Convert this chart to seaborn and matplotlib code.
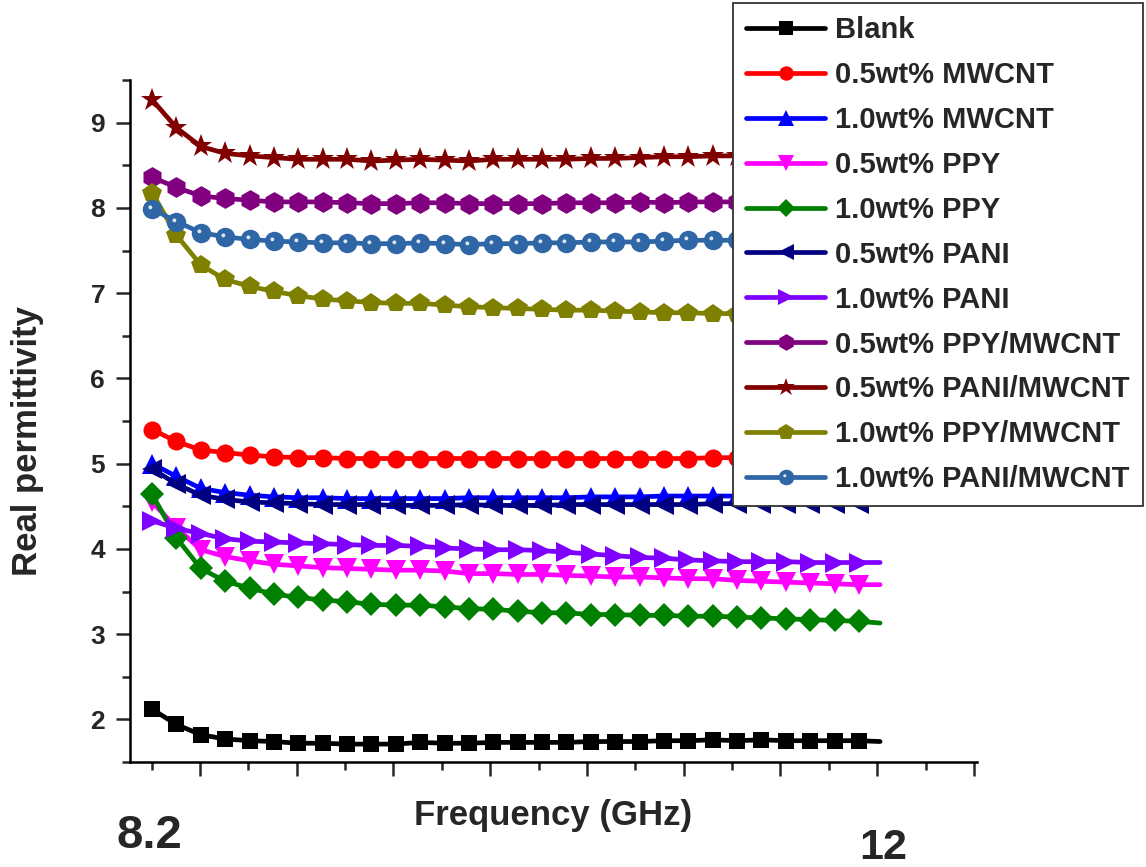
import numpy as np
import matplotlib
matplotlib.use("Agg")
import matplotlib.pyplot as plt
import seaborn as sns
from matplotlib.path import Path
from matplotlib.ticker import FixedLocator
from matplotlib.legend_handler import HandlerTuple

sns.set_style("ticks")
plt.rcParams['font.family'] = ['Liberation Sans', 'DejaVu Sans']
plt.rcParams['font.weight'] = 'bold'

# ---- data ----
freq = list(np.linspace(8.2, 11.89, 30)) + [12.0]   # GHz; last entry = end of trace

blank = [2.12, 1.94, 1.82, 1.77, 1.75, 1.74, 1.72, 1.72, 1.71, 1.71, 1.71, 1.73, 1.72, 1.72, 1.73, 1.73,
         1.73, 1.73, 1.74, 1.74, 1.74, 1.75, 1.75, 1.76, 1.75, 1.76, 1.75, 1.75, 1.75, 1.75, 1.74]
mwcnt05 = [5.40, 5.26, 5.16, 5.13, 5.10, 5.08, 5.07, 5.07, 5.06, 5.06, 5.06, 5.06, 5.06, 5.06, 5.06, 5.06,
           5.06, 5.06, 5.06, 5.06, 5.06, 5.06, 5.06, 5.07, 5.07, 5.07, 5.07, 5.07, 5.08, 5.08, 5.08]
mwcnt10 = [5.00, 4.85, 4.71, 4.66, 4.63, 4.61, 4.60, 4.60, 4.59, 4.59, 4.59, 4.59, 4.59, 4.60, 4.60, 4.60,
           4.60, 4.60, 4.61, 4.61, 4.61, 4.62, 4.62, 4.62, 4.62, 4.63, 4.63, 4.63, 4.64, 4.64, 4.64]
ppy05 = [4.55, 4.25, 3.99, 3.91, 3.86, 3.82, 3.80, 3.78, 3.77, 3.76, 3.75, 3.75, 3.74, 3.71, 3.71, 3.70,
         3.70, 3.69, 3.68, 3.67, 3.67, 3.66, 3.65, 3.65, 3.63, 3.62, 3.61, 3.60, 3.59, 3.58, 3.58]
ppy10 = [4.64, 4.13, 3.77, 3.62, 3.54, 3.47, 3.43, 3.40, 3.38, 3.35, 3.34, 3.34, 3.32, 3.30, 3.29, 3.27,
         3.25, 3.25, 3.23, 3.23, 3.22, 3.22, 3.21, 3.21, 3.20, 3.19, 3.18, 3.17, 3.16, 3.15, 3.13]
pani05 = [4.94, 4.76, 4.63, 4.58, 4.55, 4.54, 4.53, 4.52, 4.52, 4.52, 4.51, 4.51, 4.51, 4.52, 4.51, 4.51,
          4.51, 4.52, 4.52, 4.52, 4.52, 4.52, 4.52, 4.53, 4.53, 4.53, 4.53, 4.53, 4.53, 4.53, 4.54]
pani10 = [4.33, 4.24, 4.18, 4.12, 4.09, 4.08, 4.07, 4.06, 4.05, 4.04, 4.04, 4.03, 4.01, 4.00, 3.99, 3.99,
          3.98, 3.96, 3.94, 3.92, 3.90, 3.89, 3.87, 3.86, 3.85, 3.85, 3.85, 3.84, 3.84, 3.84, 3.84]
ppy_mwcnt05 = [8.36, 8.24, 8.14, 8.11, 8.09, 8.07, 8.07, 8.07, 8.06, 8.05, 8.05, 8.06, 8.06, 8.05, 8.05, 8.05,
               8.05, 8.06, 8.06, 8.06, 8.07, 8.06, 8.07, 8.07, 8.07, 8.07, 8.08, 8.08, 8.08, 8.08, 8.08]
pani_mwcnt05 = [9.27, 8.94, 8.72, 8.64, 8.61, 8.59, 8.57, 8.57, 8.57, 8.55, 8.56, 8.57, 8.56, 8.55, 8.57, 8.57,
                8.57, 8.57, 8.58, 8.58, 8.59, 8.60, 8.60, 8.61, 8.61, 8.62, 8.62, 8.63, 8.63, 8.63, 8.64]
ppy_mwcnt10 = [8.18, 7.68, 7.33, 7.16, 7.08, 7.02, 6.97, 6.93, 6.91, 6.89, 6.88, 6.88, 6.86, 6.84, 6.83, 6.82,
               6.81, 6.80, 6.80, 6.79, 6.78, 6.77, 6.77, 6.76, 6.76, 6.75, 6.75, 6.75, 6.74, 6.74, 6.74]
pani_mwcnt10 = [7.99, 7.84, 7.71, 7.66, 7.63, 7.61, 7.60, 7.59, 7.59, 7.58, 7.58, 7.59, 7.58, 7.57, 7.58, 7.58,
                7.59, 7.59, 7.60, 7.60, 7.60, 7.61, 7.62, 7.62, 7.62, 7.63, 7.63, 7.64, 7.64, 7.64, 7.65]

labels = ["Blank", "0.5wt% MWCNT", "1.0wt% MWCNT", "0.5wt% PPY", "1.0wt% PPY", "0.5wt% PANI",
          "1.0wt% PANI", "0.5wt% PPY/MWCNT", "0.5wt% PANI/MWCNT", "1.0wt% PPY/MWCNT", "1.0wt% PANI/MWCNT"]
series = [blank, mwcnt05, mwcnt10, ppy05, ppy10, pani05, pani10,
          ppy_mwcnt05, pani_mwcnt05, ppy_mwcnt10, pani_mwcnt10]
colors = ["#000000", "#FF0000", "#0000FF", "#FF00FF", "#008000", "#000080",
          "#8000FF", "#800080", "#800000", "#808000", "#2F66A6"]
markers = ["s", "o", "^", "v", "D", "<", ">", "h", "*", "p", "o"]
msizes = [12, 13, 14, 14, 12, 14, 14, 15, 17, 15, 14]

fig = plt.figure(figsize=(11.46, 8.67), dpi=100)
ax = fig.add_axes([130 / 1146, 1 - 762 / 867, 847 / 1146, 682 / 867])

mark_idx = list(range(30))
handles = []
for y, lab, c, m, ms in zip(series, labels, colors, markers, msizes):
    sns.lineplot(x=freq, y=y, ax=ax, color=c, marker=m, markersize=ms, markevery=mark_idx,
                 linewidth=3.4, markeredgewidth=0, sort=False, estimator=None, legend=False)
    handles.append(ax.lines[-1])

# highlight on the sphere markers of the last series
theta = np.linspace(0, 2 * np.pi, 30)
hv = np.column_stack([-0.22 + 0.2 * np.cos(theta), 0.22 + 0.2 * np.sin(theta)])
verts = np.vstack([[[1, 1]], [[-1, -1]], hv])
codes = [Path.MOVETO, Path.MOVETO, Path.MOVETO] + [Path.LINETO] * (len(hv) - 2) + [Path.CLOSEPOLY]
hl = Path(verts, codes)
hl_line, = ax.plot(freq[:30], pani_mwcnt10[:30], linestyle='none', marker=hl, markersize=14,
                   markerfacecolor='white', markeredgewidth=0, alpha=0.85)
handles[-1] = (handles[-1], hl_line)

ax.set_xlim(8.085, 12.506)
ax.set_ylim(1.5, 9.5)
majors_x = [8.45 + 0.505 * k for k in range(9)]
minors_x = [8.1975 + 0.505 * k for k in range(9)]
ax.xaxis.set_major_locator(FixedLocator(majors_x))
ax.xaxis.set_minor_locator(FixedLocator(minors_x))
ax.yaxis.set_major_locator(FixedLocator(list(range(2, 10))))
ax.yaxis.set_minor_locator(FixedLocator([1.5 + k for k in range(9)]))
ax.tick_params(axis='both', which='major', direction='out', length=10, width=1.8, labelsize=19, pad=8)
ax.tick_params(axis='both', which='minor', direction='out', length=5.5, width=1.8)
ax.tick_params(axis='x', labelbottom=False)
for lbl in ax.get_yticklabels():
    lbl.set_fontweight('bold')
for s in ['left', 'bottom']:
    ax.spines[s].set_linewidth(1.8)
    ax.spines[s].set_color('black')
for s in ['top', 'right']:
    ax.spines[s].set_visible(False)

fig.text(553 / 1146, 1 - 815 / 867, "Frequency (GHz)", ha='center', va='center', fontsize=25, fontweight='bold')
fig.text(28 / 1146, 1 - 441 / 867, "Real permittivity", ha='center', va='center', rotation=90,
         fontsize=25, fontweight='bold')
fig.text(149 / 1146, 1 - 836 / 867, "8.2", ha='center', va='center', fontsize=34, fontweight='bold')
fig.text(883 / 1146, 1 - 848 / 867, "12", ha='center', va='center', fontsize=31, fontweight='bold')

leg = ax.legend(handles, labels, loc='upper right', bbox_to_anchor=(1143 / 1146, 1 - 3 / 867),
                bbox_transform=fig.transFigure, borderaxespad=0, frameon=True, fancybox=False,
                handlelength=2.7, handletextpad=0.35, labelspacing=0.58,
                borderpad=0.45, markerscale=0.8, prop={'weight': 'bold', 'size': 21},
                handler_map={tuple: HandlerTuple(ndivide=1, pad=0)})
leg.get_frame().set_edgecolor('#333333')
leg.get_frame().set_linewidth(1.3)
leg.get_frame().set_alpha(1.0)
leg.set_zorder(10)

fig.savefig("out.png", dpi=100)
